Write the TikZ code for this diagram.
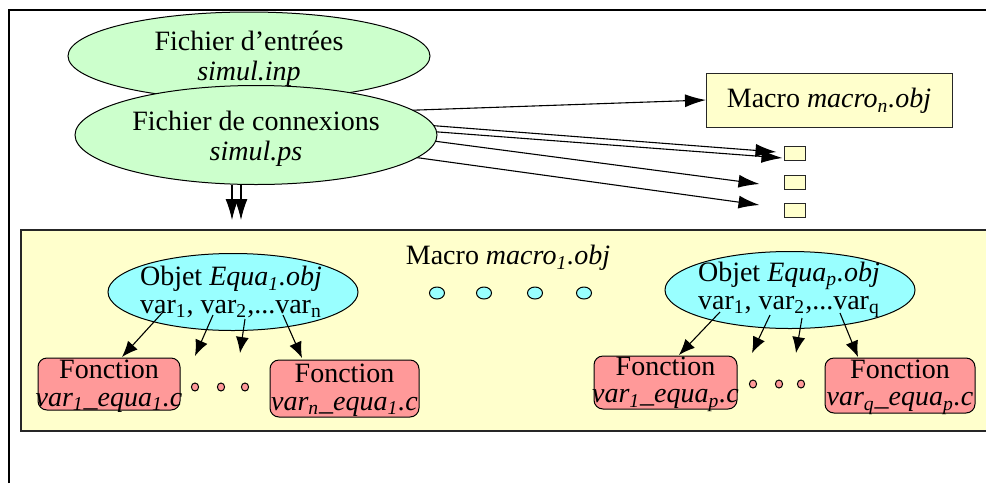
\documentclass[tikz,border=0pt]{standalone}
\usepackage{fontspec}
\setmainfont{Liberation Serif}
\usetikzlibrary{arrows.meta,shapes.geometric,calc}
\definecolor{cgreen}{HTML}{CCFFCC}
\definecolor{cyellow}{HTML}{FFFFCC}
\definecolor{ccyan}{HTML}{99FFFF}
\definecolor{cpink}{HTML}{FF9999}
\begin{document}
\begin{tikzpicture}[x=0.5pt,y=-0.5pt,
  every node/.style={inner sep=0pt, outer sep=0pt},
  txt/.style={font=\fontsize{14}{15}\selectfont, align=center},
  txtb/.style={font=\fontsize{14}{13.8}\selectfont, align=center},
  gell/.style={ellipse, draw=black, line width=0.5pt, fill=cgreen},
  cell/.style={ellipse, draw=black, line width=0.5pt, fill=ccyan, minimum width=125pt, minimum height=38.5pt},
  cdot/.style={ellipse, draw=black, line width=0.5pt, fill=ccyan, minimum width=7.5pt, minimum height=6pt},
  pdot/.style={ellipse, draw=black, line width=0.5pt, fill=cpink, minimum width=3.6pt, minimum height=4pt},
  fbox/.style={rectangle, rounded corners=4.5pt, draw=black, line width=0.5pt, fill=cpink},
  ybox/.style={rectangle, draw=black!85, line width=0.5pt, fill=cyellow},
  arr/.style={line width=0.55pt, -{Latex[length=10.5pt,width=6.5pt]}},
  arrs/.style={line width=0.55pt, -{Latex[length=8pt,width=6.5pt]}}
]
\useasboundingbox (0,0) rectangle (986,483);
% outer frame (left and top only)
\draw[line width=1pt] (9,483) -- (9,10) -- (986,10);

% big macro box
\node[fill=cyellow, minimum width=482.5pt, minimum height=100.5pt] (macro1) at (503.5,330.5) {};
\draw[black!85, line width=0.6pt] (macro1.north east) -- (macro1.north west) -- (macro1.south west) -- (macro1.south east);
\node[txt] (macro1t) at (508,258) {Macro \textit{macro\textsubscript{1}.obj}};

% top ellipses
\node[gell, minimum width=181pt, minimum height=44pt] (entrees) at (249,56) {};
\node[txt] (entreest) at (249,59) {Fichier d’entrées\\\textit{simul.inp}};
\node[gell, minimum width=181pt, minimum height=49.5pt] (conn) at (256,135) {};
\node[txt] (connt) at (256,139) {Fichier de connexions\\\textit{simul.ps}};

% macro n and small boxes
\node[ybox, minimum width=123pt, minimum height=27pt] (macron) at (829,100) {};
\node[txt] (macront) at (829,101) {Macro \textit{macro\textsubscript{n}.obj}};
\node[ybox, minimum width=10.5pt, minimum height=7pt] (s1) at (795,153) {};
\node[ybox, minimum width=10.5pt, minimum height=7pt] (s2) at (795,182) {};
\node[ybox, minimum width=10.5pt, minimum height=7pt] (s3) at (795,210) {};

% top connectors
\draw[arr] (conn.9) -- (macron.west);
\draw[arr] (conn.3) -- ($(s1.west)+(-8,-1)$);
\draw[arr] (conn.1) -- ($(s1.west)+(-2,5)$);
\draw[arr] (conn.358) -- ($(s2.west)+(-25,2)$);
\draw[arr] (conn.352) -- ($(s3.west)+(-25,-5)$);
\draw[arr] ($(conn.south)+(-24,0)$) -- ($(macro1.north west)+(211,-10)$);
\draw[arr] ($(conn.south)+(-15,0)$) -- ($(macro1.north west)+(220,-10)$);

% cyan dots
\node[cdot] (d1) at (437,293) {};
\node[cdot] (d2) at (484,293) {};
\node[cdot] (d3) at (535,293) {};
\node[cdot] (d4) at (584,293) {};

% Equa 1
\node[cell] (equa1) at (233,292) {};
\node[txtb] (equa1t) at (231,292) {Objet \textit{Equa\textsubscript{1}.obj}\\var\textsubscript{1}, var\textsubscript{2},...var\textsubscript{n}};
\node[fbox, minimum width=71pt, minimum height=26pt] (f11) at (109,384) {};
\node[txtb] (f11t) at (109,386) {Fonction\\\textit{var\textsubscript{1}\_equa\textsubscript{1}.c}};
\node[fbox, minimum width=74.5pt, minimum height=28.5pt] (f1n) at (344.5,388.5) {};
\node[txtb] (f1nt) at (344.5,390) {Fonction\\\textit{var\textsubscript{n}\_equa\textsubscript{1}.c}};
\node[pdot] (p1) at (195,387) {};
\node[pdot] (p2) at (221,387) {};
\node[pdot] (p3) at (245,387) {};
\draw[arrs] ($(equa1)+(-70,20)$) -- ($(f11.north)+(13,-1)$);
\draw[arrs] ($(equa1)+(-20,23)$) -- ($(equa1)+(-38,64)$);
\draw[arrs] ($(equa1)+(12,27)$) -- ($(equa1)+(7,61)$);
\draw[arrs] ($(equa1)+(50,23)$) -- ($(f1n.north)+(-42.5,-2)$);

% Equa p
\node[cell] (equap) at (790,290) {};
\node[txtb] (equapt) at (789,290) {Objet \textit{Equa\textsubscript{p}.obj}\\var\textsubscript{1}, var\textsubscript{2},...var\textsubscript{q}};
\node[fbox, minimum width=71.5pt, minimum height=26.5pt] (fp1) at (665.5,382.5) {};
\node[txtb] (fp1t) at (665.5,384) {Fonction\\\textit{var\textsubscript{1}\_equa\textsubscript{p}.c}};
\node[fbox, minimum width=75pt, minimum height=27.5pt] (fpq) at (900,385.5) {};
\node[txtb] (fpqt) at (900,387) {Fonction\\\textit{var\textsubscript{q}\_equa\textsubscript{p}.c}};
\node[pdot] (q1) at (753,384) {};
\node[pdot] (q2) at (779,384) {};
\node[pdot] (q3) at (801,384) {};
\draw[arrs] ($(equap)+(-70,22)$) -- ($(fp1.north)+(13.5,-1)$);
\draw[arrs] ($(equap)+(-20,25)$) -- ($(equap)+(-38,63)$);
\draw[arrs] ($(equap)+(12,28)$) -- ($(equap)+(6,63)$);
\draw[arrs] ($(equap)+(50,23)$) -- ($(fpq.north)+(-42,-1)$);
\end{tikzpicture}
\end{document}
